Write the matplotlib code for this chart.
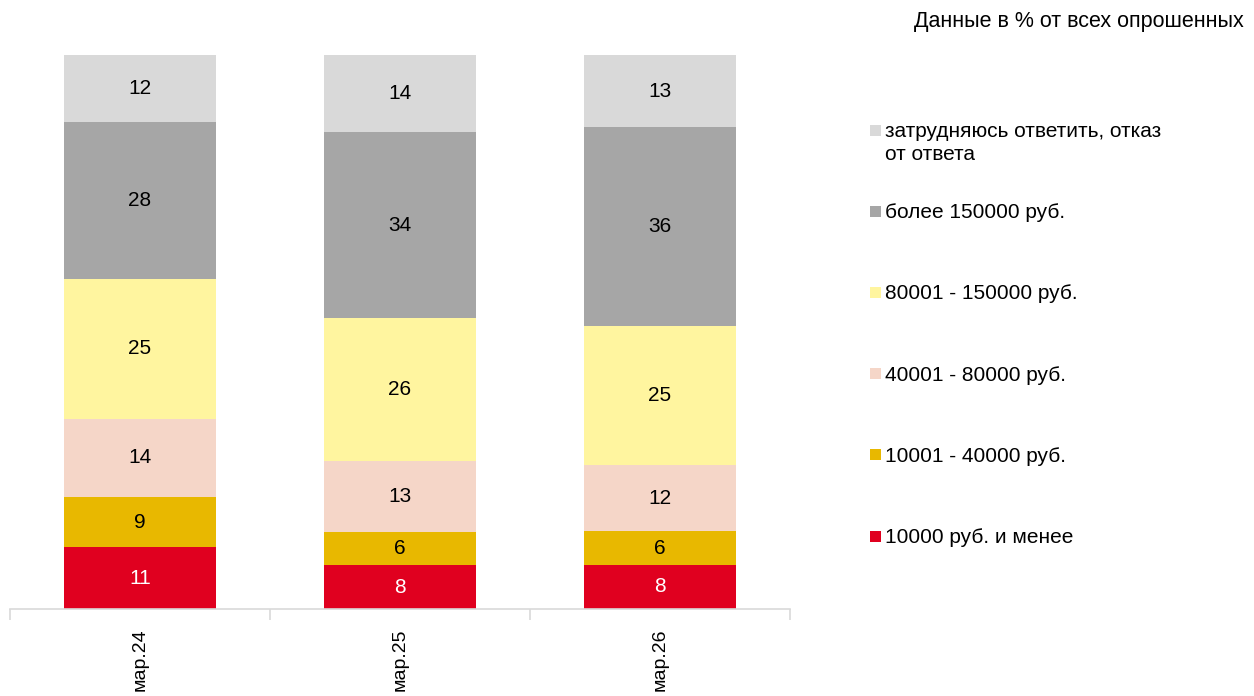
import numpy as np
import matplotlib.pyplot as plt
from matplotlib.patches import Rectangle

plt.rcParams['font.family'] = ['Liberation Sans', 'DejaVu Sans']

periods = ['мар.24', 'мар.25', 'мар.26']
series_names = ['10000 руб. и менее', '10001 - 40000 руб.', '40001 - 80000 руб.',
                '80001 - 150000 руб.', 'более 150000 руб.',
                'затрудняюсь ответить, отказ\nот ответа']
s_le10k = [11, 8, 8]
s_10_40k = [9, 6, 6]
s_40_80k = [14, 13, 12]
s_80_150k = [25, 26, 25]
s_gt150k = [28, 34, 36]
s_na = [12, 14, 13]
colors = ['#E0001F', '#E8B800', '#F5D6C8', '#FFF59F', '#A6A6A6', '#D9D9D9']
text_colors = ['white', 'black', 'black', 'black', 'black', 'black']

data = np.array([s_le10k, s_10_40k, s_40_80k, s_80_150k, s_gt150k, s_na], dtype=float)
shares = data / data.sum(axis=0) * 100   # chart is 100% stacked

fig = plt.figure(figsize=(12.54, 6.96), dpi=100)
ax = fig.add_axes([10 / 1254, 87 / 696, 780 / 1254, 554 / 696])

x = np.arange(len(periods))
bottom = np.zeros(len(periods))
for i in range(len(series_names)):
    ax.bar(x, shares[i], 0.585, bottom=bottom, color=colors[i], linewidth=0)
    for j in range(len(periods)):
        ax.text(x[j], bottom[j] + shares[i][j] / 2, str(int(data[i][j])),
                ha='center', va='center', fontsize=15, color=text_colors[i])
    bottom += shares[i]

ax.set_xlim(-0.5, 2.5)
ax.set_ylim(0, 100)
for side in ['left', 'right', 'top']:
    ax.spines[side].set_visible(False)
ax.spines['bottom'].set_color('#D9D9D9')
ax.spines['bottom'].set_linewidth(1.2)
ax.set_yticks([])
ax.set_xticks(x)
ax.set_xticklabels(periods, rotation=90, fontsize=14)
ax.tick_params(axis='x', which='major', length=0, pad=14)
ax.set_xticks([-0.5, 0.5, 1.5, 2.5], minor=True)
ax.tick_params(axis='x', which='minor', length=8, color='#D9D9D9', width=1.2)

# legend, top entry first
for k, i in enumerate(range(len(series_names) - 1, -1, -1)):
    y = 1 - (130 + 81.2 * k) / 696
    fig.patches.append(Rectangle((870 / 1254, y - 5.5 / 696), 11 / 1254, 11 / 696,
                                 transform=fig.transFigure, color=colors[i], linewidth=0))
    fig.text(885 / 1254, y + 8 / 696, series_names[i], ha='left', va='top',
             fontsize=15, linespacing=1.28)

fig.text(1244 / 1254, 1 - 22 / 696, 'Данные в % от всех опрошенных',
         ha='right', va='center', fontsize=15.5)

fig.savefig('out.png', dpi=100)
